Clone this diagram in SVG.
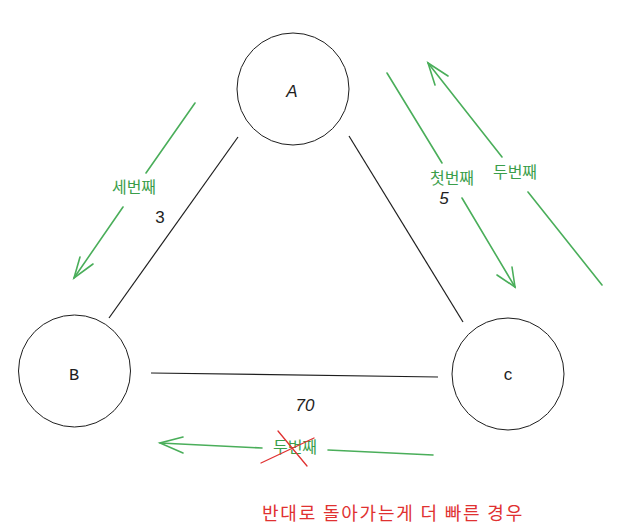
<svg xmlns="http://www.w3.org/2000/svg" width="641" height="532" viewBox="0 0 641 532">
<style>
.node{fill:none;stroke:#1e1e1e;stroke-width:1}
.edge{stroke:#1e1e1e;stroke-width:1.2;fill:none}
.g{stroke:#4aae5a;stroke-width:1.6;fill:none;stroke-linecap:round}
.lbl{font-family:"Liberation Sans","Noto Sans",sans-serif;font-size:17px;fill:#1e1e1e;text-anchor:middle}
.gt{font-family:"Noto Sans CJK KR",sans-serif;font-size:16px;fill:#3a9e4a;text-anchor:middle}
.rt{font-family:"Noto Sans CJK KR",sans-serif;font-size:18px;letter-spacing:1.8px;fill:#e03131;text-anchor:middle}
.x{stroke:#e03131;stroke-width:1.3;stroke-linecap:round}
</style>
<rect width="641" height="532" fill="#ffffff"/>
<g id="edges">
<line class="edge" x1="238" y1="137" x2="109" y2="318"/>
<line class="edge" x1="349" y1="136" x2="463" y2="322"/>
<line class="edge" x1="151" y1="373" x2="438" y2="377"/>
<text class="lbl" x="160" y="223">3</text>
<text class="lbl" x="444" y="204" style="font-style:italic">5</text>
<text class="lbl" x="305" y="411" style="font-style:italic">70</text>
</g>
<g id="node-A">
<circle class="node" cx="293" cy="89" r="56"/>
<text class="lbl" x="292" y="97" style="font-style:italic">A</text>
</g>
<g id="node-B">
<circle class="node" cx="74.5" cy="371" r="56"/>
<text class="lbl" x="74" y="380" style="font-family:'Liberation Mono',monospace">B</text>
</g>
<g id="node-C">
<circle class="node" cx="508" cy="374" r="56"/>
<text class="lbl" x="508" y="380">c</text>
</g>
<g id="arrow-third">
<line class="g" x1="195" y1="103" x2="146" y2="173"/>
<line class="g" x1="123" y1="207" x2="74" y2="278"/>
<polyline class="g" points="80,257 74,278 93,264"/>
<text class="gt" x="134" y="193">세번째</text>
</g>
<g id="arrow-first">
<line class="g" x1="387" y1="73" x2="442" y2="163"/>
<line class="g" x1="462" y1="198" x2="515" y2="287"/>
<polyline class="g" points="497,275 515,287 512,267"/>
<text class="gt" x="452" y="184">첫번째</text>
</g>
<g id="arrow-second">
<line class="g" x1="602" y1="285" x2="528" y2="192"/>
<line class="g" x1="502" y1="157" x2="428" y2="63"/>
<polyline class="g" points="435,85 428,63 448,76"/>
<text class="gt" x="515" y="178">두번째</text>
</g>
<g id="arrow-bottom">
<line class="g" x1="433" y1="455" x2="328" y2="450"/>
<line class="g" x1="262" y1="448" x2="160" y2="443"/>
<polyline class="g" points="183,437 160,443 183,453"/>
<text class="gt" x="295" y="453">두번째</text>
<line class="x" x1="278" y1="431" x2="307" y2="466"/>
<line class="x" x1="261" y1="463" x2="314" y2="438"/>
</g>
<text class="rt" x="393" y="520">반대로 돌아가는게 더 빠른 경우</text>
</svg>
